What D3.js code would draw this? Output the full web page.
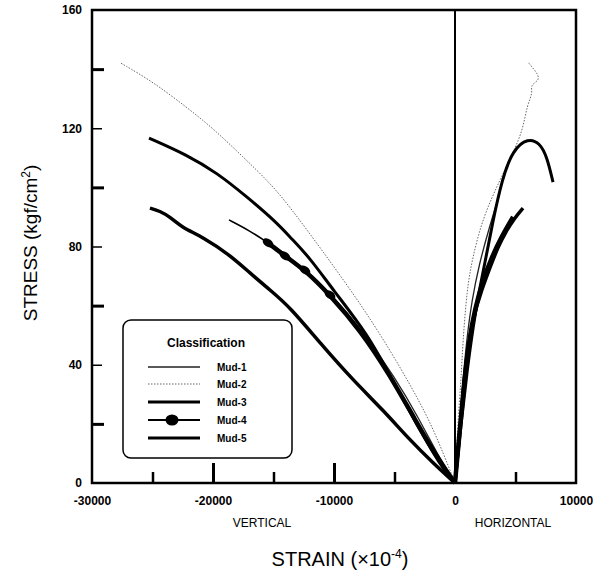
<!DOCTYPE html>
<html>
<head>
<meta charset="utf-8">
<script src="https://cdn.jsdelivr.net/npm/d3@7"></script>
<style>
  body { margin: 0; background: #fff; }
  svg { display: block; }
  .tick text { font-family: "Liberation Sans", Arial, sans-serif; font-weight: bold; font-size: 12px; fill: #000; }
</style>
</head>
<body>
<svg id="chart" width="593" height="572"></svg>
<script>
// stress-strain curves, [strain (x1e-4), stress (kgf/cm2)]
const mud1Vertical = [[-15000, 80.5], [-12500, 72.5], [-10000, 63], [-7500, 50.5], [-5000, 36], [-3000, 22], [-1300, 8.5], [0, 0]]
const mud1Horizontal = [[0, 0], [300, 16], [600, 32], [950, 48], [1400, 62], [2000, 74], [2800, 86], [3700, 98]]
const mud2Vertical = [[-27600, 142], [-24960, 135.7], [-22150, 127], [-20000, 120], [-17520, 110.3], [-15290, 101.5],
  [-13640, 93.4], [-11000, 78.8], [-7850, 60.9], [-5370, 45], [-3470, 31.5], [-1820, 18.9], [0, 0]]
const mud2Horizontal = [[0, 0], [250, 21.3], [500, 34.8], [660, 48.4], [990, 65.3], [1400, 75.4], [2310, 90], [3720, 102.5],
  [4710, 111], [5620, 119.4], [5950, 127.9], [6450, 132], [6200, 134.6], [7020, 136.3], [6780, 138.7], [6360, 140.7], [6030, 142.4]]
const mud3Vertical = [[-25290, 116.7], [-22150, 111], [-19670, 104.9], [-17190, 96.8], [-14710, 88], [-13640, 83.2],
  [-11980, 76.1], [-10080, 65.3], [-7270, 50.7], [-5120, 34.5], [-3140, 19.6], [-1240, 6.1], [0, 0]]
const mud3Horizontal = [[0, 0], [500, 20], [1000, 38], [1500, 53], [2000, 65], [2500, 75], [3100, 88], [3900, 103],
  [4790, 112.7], [6030, 116.7], [7020, 115], [7600, 110.3], [8100, 101.8]]
const mud4Vertical = [[-18680, 89], [-16940, 85.3], [-15450, 81.2], [-14050, 76.8], [-12400, 72], [-10330, 63.6],
  [-7850, 51.8], [-5370, 36.5], [-3300, 21.3], [-1240, 7.1], [0, 0]]
const mud4Horizontal = [[0, 0], [400, 18], [750, 34], [1150, 48], [1650, 59], [2300, 68.5], [3000, 76], [3800, 83], [4800, 90]]
const mud5Vertical = [[-25210, 93], [-24400, 92], [-23550, 90], [-22600, 86.5], [-20830, 83.2], [-18600, 77.1], [-16940, 71],
  [-15290, 65.3], [-13640, 59.5], [-11160, 47.4], [-8430, 34.8], [-5950, 24.7], [-3720, 14.5], [-1820, 6.8], [0, 0]]
const mud5Horizontal = [[0, 0], [330, 14.5], [650, 30], [1000, 44], [1500, 56], [2200, 65.3], [2900, 73], [3550, 79.8],
  [4200, 85], [4900, 89.5], [5620, 93]]

const yTicks = [0, 40, 80, 120, 160]
const yMinorTicks = [20, 60, 100, 140]
const xTicks = [-30000, -20000, -10000, 0, 10000]
const xMinorTicks = [-25000, -15000, -5000, 5000]
const legendNames = ["Mud-1", "Mud-2", "Mud-3", "Mud-4", "Mud-5"]

const svg = d3.select("#chart")
const font = "'Liberation Sans', Arial, sans-serif"

let xScale = d3.scaleLinear().domain([-30000, 10000]).range([92, 576])
let yScale = d3.scaleLinear().domain([0, 160]).range([483, 10])

// axes: labels outside, ticks pointing in
svg.append("g").attr("transform", "translate(92,0)")
  .call(d3.axisLeft(yScale).tickValues(yTicks).tickSize(0).tickPadding(10))
  .call(g => g.select(".domain").remove())
svg.append("g").attr("transform", "translate(92,0)")
  .call(d3.axisLeft(yScale).tickValues(yTicks.slice(1, 4)).tickSize(-10).tickFormat(""))
  .call(g => g.select(".domain").remove())
  .selectAll("line").attr("stroke", "#000").attr("stroke-width", 1.5)
svg.append("g").attr("transform", "translate(92,0)")
  .call(d3.axisLeft(yScale).tickValues(yMinorTicks).tickSize(-12).tickFormat(""))
  .call(g => g.select(".domain").remove())
  .selectAll("line").attr("stroke", "#000").attr("stroke-width", 3)

svg.append("g").attr("transform", "translate(0,483)")
  .call(d3.axisBottom(xScale).tickValues(xTicks).tickSize(0).tickPadding(13).tickFormat(d => String(d)))
  .call(g => g.select(".domain").remove())
svg.append("g").attr("transform", "translate(0,483)")
  .call(d3.axisBottom(xScale).tickValues([-20000, -10000]).tickSize(-20).tickFormat(""))
  .call(g => g.select(".domain").remove())
  .selectAll("line").attr("stroke", "#000").attr("stroke-width", 3)
svg.append("g").attr("transform", "translate(0,483)")
  .call(d3.axisBottom(xScale).tickValues(xMinorTicks).tickSize(-11).tickFormat(""))
  .call(g => g.select(".domain").remove())
  .selectAll("line").attr("stroke", "#000").attr("stroke-width", 2.5)

// frame and zero line
svg.append("rect").attr("x", 92).attr("y", 10).attr("width", 484).attr("height", 473)
  .attr("fill", "none").attr("stroke", "#000").attr("stroke-width", 2.5)
svg.append("line").attr("x1", xScale(0)).attr("x2", xScale(0)).attr("y1", 10).attr("y2", 483)
  .attr("stroke", "#000").attr("stroke-width", 2)

let line = d3.line().x(d => xScale(d[0])).y(d => yScale(d[1])).curve(d3.curveBasis)

const styles = {
  "Mud-1": { w: 1.3, c: "#222", dash: null },
  "Mud-2": { w: 1, c: "#666", dash: "1.5,1.5" },
  "Mud-3": { w: 3, c: "#000", dash: null },
  "Mud-4": { w: 4.5, c: "#000", dash: null },
  "Mud-5": { w: 3.5, c: "#000", dash: null }
}
const curves = [
  ["Mud-1", mud1Vertical], ["Mud-1", mud1Horizontal],
  ["Mud-2", mud2Vertical], ["Mud-2", mud2Horizontal],
  ["Mud-3", mud3Vertical], ["Mud-3", mud3Horizontal],
  ["Mud-5", mud5Vertical], ["Mud-5", mud5Horizontal],
  ["Mud-4", mud4Vertical.slice(2)], ["Mud-4", mud4Horizontal]
]
for (let [name, data] of curves) {
  let s = styles[name]
  svg.append("path").datum(data).attr("d", line)
    .attr("fill", "none").attr("stroke", s.c).attr("stroke-width", s.w)
    .attr("stroke-dasharray", s.dash)
}
// thin lead-in of Mud-4 before the thick part
svg.append("path").datum(mud4Vertical.slice(0, 3)).attr("d", line)
  .attr("fill", "none").attr("stroke", "#000").attr("stroke-width", 1.5)
svg.selectAll(".m4").data(mud4Vertical.slice(2, 6)).join("ellipse")
  .attr("cx", d => xScale(d[0])).attr("cy", d => yScale(d[1]))
  .attr("rx", 6).attr("ry", 3.8).attr("fill", "#000")
  .attr("transform", d => `rotate(35,${xScale(d[0])},${yScale(d[1])})`)

// legend
let lg = svg.append("g")
lg.append("rect").attr("x", 123).attr("y", 320).attr("width", 169).attr("height", 138).attr("rx", 8)
  .attr("fill", "#fff").attr("stroke", "#000").attr("stroke-width", 1.5)
lg.append("text").attr("x", 206).attr("y", 347).attr("text-anchor", "middle")
  .attr("font-family", font).attr("font-weight", "bold").attr("font-size", 12).text("Classification")
const rowY = [367, 384, 402, 420, 438]
legendNames.forEach((n, i) => {
  let s = styles[n]
  lg.append("line").attr("x1", 148).attr("x2", 200).attr("y1", rowY[i]).attr("y2", rowY[i])
    .attr("stroke", s.c).attr("stroke-width", n == "Mud-4" ? 2 : Math.min(s.w, 3)).attr("stroke-dasharray", s.dash)
  if (n == "Mud-4") lg.append("ellipse").attr("cx", 172).attr("cy", rowY[i]).attr("rx", 6.5).attr("ry", 5.5).attr("fill", "#000")
  lg.append("text").attr("x", 217).attr("y", rowY[i] + 4)
    .attr("font-family", font).attr("font-weight", "bold").attr("font-size", 10).text(n)
})

// axis titles
svg.append("text").attr("transform", "translate(37,243) rotate(-90)").attr("text-anchor", "middle")
  .attr("font-family", font).attr("font-size", 19)
  .html('STRESS (kgf/cm<tspan dy="-7" font-size="12">2</tspan><tspan dy="7">)</tspan>')
svg.append("text").attr("x", 340).attr("y", 566).attr("text-anchor", "middle")
  .attr("font-family", font).attr("font-size", 20)
  .html('STRAIN (×10<tspan dy="-8" font-size="12">-4</tspan><tspan dy="8">)</tspan>')
svg.append("text").attr("x", 262).attr("y", 527).attr("text-anchor", "middle")
  .attr("font-family", font).attr("font-size", 12).text("VERTICAL")
svg.append("text").attr("x", 513).attr("y", 527).attr("text-anchor", "middle")
  .attr("font-family", font).attr("font-size", 12).text("HORIZONTAL")
</script>
</body>
</html>
